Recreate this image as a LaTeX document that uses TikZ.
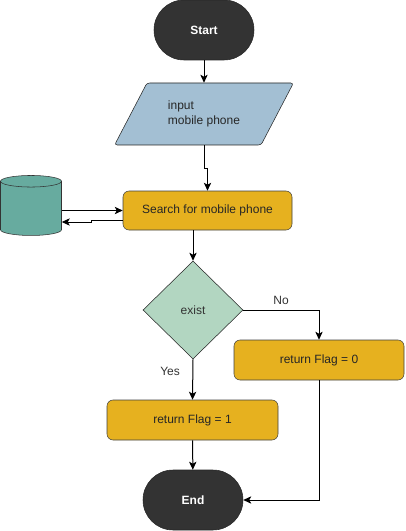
\documentclass[tikz,border=0pt]{standalone}
\usepackage{fontspec}
\setmainfont{Liberation Sans}
\usetikzlibrary{shapes.geometric,arrows.meta}

\definecolor{termfill}{HTML}{333333}
\definecolor{iofill}{HTML}{A3BFD3}
\definecolor{procfill}{HTML}{E6B11F}
\definecolor{decfill}{HTML}{B2D6C1}
\definecolor{dbfill}{HTML}{67AB9F}

\begin{document}
\begin{tikzpicture}[x=0.75pt,y=-0.75pt,
		font=\fontsize{9}{11}\selectfont,
		terminal/.style={draw=black!85, fill=termfill, text=white, font=\fontsize{9}{11}\selectfont\bfseries,
			minimum width=75pt, minimum height=45pt, rounded corners=22.5pt},
		io/.style={trapezium, trapezium left angle=56.5, trapezium right angle=123.5, trapezium stretches=true,
			draw=black!85, fill=iofill, text=black!85, align=left, rounded corners=2pt,
			minimum width=134.25pt, minimum height=46.5pt},
		process/.style={draw=black!75, fill=procfill, text=black!85, rounded corners=4.5pt,
			minimum width=127.5pt, minimum height=30pt},
		decision/.style={diamond, draw=black!85, fill=decfill, text=black!80, inner sep=0pt,
			minimum width=75pt, minimum height=73.5pt},
		store/.style={cylinder, shape border rotate=90, aspect=1.3, draw=black!80, fill=dbfill,
			minimum width=45.75pt, minimum height=45pt},
		line/.style={draw=black, line width=0.75pt, -{Stealth[length=6pt,width=5.5pt,inset=1.5pt]}},
		lbl/.style={text=black!80}
	]
	\useasboundingbox (0,0) rectangle (405,531);

	\node[terminal] (start) at (204,30) {Start};
	\node[io] (input) at (204,114) {input\\mobile phone};
	\node[process, minimum width=126.75pt, minimum height=29.25pt] (search) at (207.5,210.5) {Search for mobile phone};
	\node[store] (db) at (31,210) {};
	\node[decision] (exist) at (193,310) {exist};
	\node[process] (flag0) at (319,360) {return Flag = 0};
	\node[process, minimum width=128.25pt] (flag1) at (192.5,420) {return Flag = 1};
	\node[terminal] (end) at (193,500) {End};

	% main flow
	\draw[line] (start) -- (input);
	\draw[line] (input.south) -- ++(0,23) -| (search.north);
	\draw[line] (exist.north |- search.south) -- (exist.north);
	\draw[line] (exist.south) -- node[lbl, left=6pt, pos=0.3] {Yes} (flag1.north);
	\draw[line] (exist.east) -| node[lbl, above, pos=0.25] {No} (flag0.north);
	\draw[line] (flag1) -- (end);
	\draw[line] (flag0.south) |- (end.east);

	% database
	\draw[line] (db.east |- search.west) -- (search.west);
	\draw[line] ([yshift=-7.5pt]search.west) -- ++(-31,0) |- ([yshift=-9pt]db.east);
\end{tikzpicture}
\end{document}
